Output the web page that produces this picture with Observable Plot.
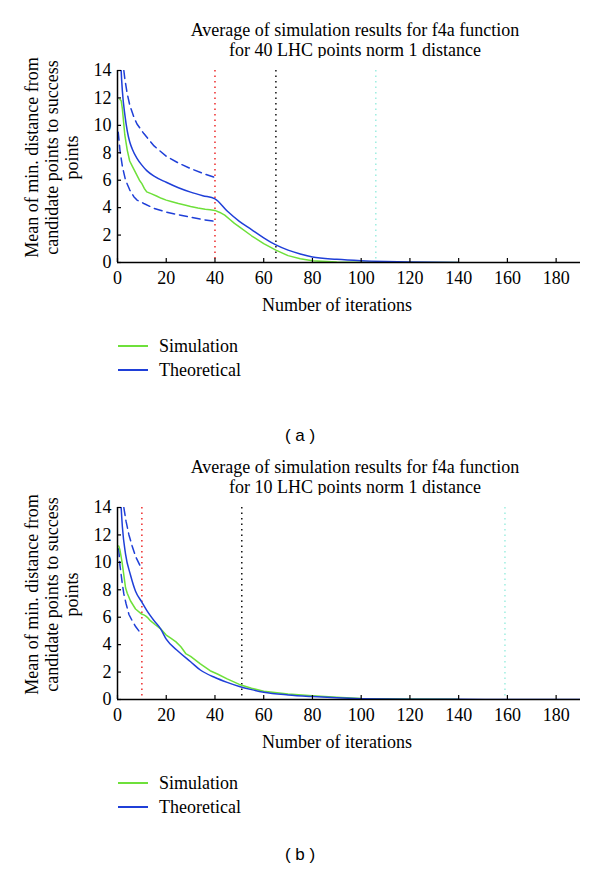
<!DOCTYPE html>
<html>
<head>
<meta charset="utf-8">
<script src="https://cdn.jsdelivr.net/npm/d3@7"></script>
<script src="https://cdn.jsdelivr.net/npm/@observablehq/plot@0.6"></script>
<style>
  html, body { margin: 0; padding: 0; background: #fff; }
  body { width: 600px; height: 871px; position: relative; font-family: "Liberation Serif", serif; color: #000; overflow: hidden; }
  .title { position: absolute; left: 155px; width: 400px; text-align: center; font-size: 18px; line-height: 20px; }
  .chart { position: absolute; left: 0; }
  .chart svg text { font-family: "Liberation Serif", serif !important; font-size: 18px !important; }
  .legend { position: absolute; left: 118px; font-size: 18px; }
  .legend .row { position: absolute; left: 0; height: 20px; white-space: nowrap; }
  .legend .sw { position: absolute; left: 0; top: 9px; width: 30px; height: 2px; }
  .legend .lb { position: absolute; left: 41px; top: 0; line-height: 20px; }
  .tag { position: absolute; left: 250px; width: 100px; text-align: center; font-family: "Liberation Sans", sans-serif; font-size: 17px; line-height: 20px; }
</style>
</head>
<body>
<script>
// ---------- data ----------
const xTicks = [0, 20, 40, 60, 80, 100, 120, 140, 160, 180];
const yTicks = [0, 2, 4, 6, 8, 10, 12, 14];

// panel (a): 40 LHC points
const titleA = ["Average of simulation results for f4a function", "for 40 LHC points norm 1 distance"];
const simA_x = [1, 1.5, 2, 3, 4, 5, 6, 7, 8, 9, 10, 11, 12, 14, 16, 18, 20, 22, 25, 28, 30, 33, 36, 38, 40, 42, 44, 46, 48, 50, 55, 60, 65, 70, 75, 80, 90, 100, 120, 140];
const simA_y = [11.9, 11.8, 11.2, 9.3, 8.2, 7.4, 7.05, 6.7, 6.35, 6.0, 5.75, 5.4, 5.15, 5.0, 4.85, 4.68, 4.55, 4.45, 4.3, 4.17, 4.08, 3.97, 3.88, 3.85, 3.8, 3.65, 3.45, 3.15, 2.85, 2.6, 1.95, 1.38, 0.9, 0.5, 0.28, 0.12, 0.03, 0.01, 0, 0];
const theoA_x = [1, 1.5, 2, 3, 4, 5, 6, 8, 10, 12, 15, 20, 25, 30, 35, 40, 45, 50, 55, 60, 65, 70, 75, 80, 90, 100, 110, 120, 130, 140];
const theoA_y = [16.5, 14, 12.5, 10.8, 9.6, 8.8, 8.3, 7.6, 7.1, 6.7, 6.3, 5.85, 5.45, 5.13, 4.87, 4.64, 3.75, 3.0, 2.4, 1.8, 1.28, 0.9, 0.62, 0.4, 0.23, 0.13, 0.07, 0.03, 0.01, 0];
const upA_x = [2.6, 3, 4, 5, 6.7, 8, 10.8, 15, 20, 25, 30, 35, 40];
const upA_y = [14, 13.4, 12.3, 11.5, 10.6, 10.1, 9.4, 8.5, 7.75, 7.25, 6.85, 6.5, 6.2];
const loA_x = [0.3, 1, 2, 3.3, 5, 6.7, 8, 10.8, 15, 20, 25, 30, 35, 40];
const loA_y = [9.5, 8.2, 7.0, 6.0, 5.3, 4.8, 4.55, 4.3, 3.95, 3.68, 3.48, 3.3, 3.13, 3.0];
const vlinesA = [40, 65, 106];

// panel (b): 10 LHC points
const titleB = ["Average of simulation results for f4a function", "for 10 LHC points norm 1 distance"];
const simB_x = [0.5, 1, 1.5, 2, 3.3, 4, 5.3, 7.4, 9.9, 11, 11.5, 12.5, 13.6, 15.5, 17.7, 20, 22, 24, 26, 28, 30, 34, 38, 41, 45, 50, 55, 60, 70, 80, 90, 100, 120, 140];
const simB_y = [11.2, 10.9, 10.4, 9.85, 8.15, 7.75, 7.2, 6.6, 6.23, 6.15, 6.1, 5.95, 5.73, 5.45, 5.15, 4.7, 4.45, 4.2, 3.85, 3.35, 3.15, 2.6, 2.1, 1.86, 1.5, 1.1, 0.82, 0.6, 0.4, 0.28, 0.17, 0.08, 0.03, 0.01];
const theoB_x = [1, 1.5, 2, 3.3, 5.3, 7.4, 10, 12, 15, 17.7, 20, 25, 30, 34, 40, 45, 50, 55, 60, 70, 80, 90, 100, 110, 120, 140, 160, 190];
const theoB_y = [16, 14, 12.6, 10.6, 9.1, 7.9, 7.1, 6.5, 5.75, 5.15, 4.4, 3.5, 2.75, 2.15, 1.6, 1.25, 0.95, 0.72, 0.53, 0.33, 0.21, 0.12, 0.06, 0.03, 0.02, 0.01, 0, 0];
const upB_x = [2.6, 3.5, 4.7, 6, 7.5, 9, 10];
const upB_y = [14, 13, 12, 11.2, 10.4, 9.85, 9.5];
const loB_x = [0.5, 1, 2, 2.6, 3.5, 4.7, 6, 7.5, 9];
const loB_y = [11, 9.8, 8.4, 7.7, 7.0, 6.2, 5.75, 5.3, 4.95];
const vlinesB = [10, 51, 159];

const yLabel = ["Mean of min. distance from", "candidate points to success", "points"];
const xLabel = "Number of iterations";
const seriesNames = ["Simulation", "Theoretical"];
const tags = ["( a )", "( b )"];

// ---------- styles ----------
const GREEN = "#6ee03a";
const BLUE = "#1f3fd8";
const VCOLORS = ["#ee2a2a", "#111111", "#9eeee0"];

const W = 600, H = 260, ML = 117, MR = 20, MT = 12, MB = 56;
const FW = W - ML - MR, FH = H - MT - MB;

const pts = (xs, ys) => xs.map((x, i) => ({x, y: ys[i]}));

function panel(simX, simY, thX, thY, upX, upY, loX, loY, vlines) {
  return Plot.plot({
    width: W, height: H,
    marginLeft: ML, marginRight: MR, marginTop: MT, marginBottom: MB,
    style: {fontFamily: "Liberation Serif, serif", fontSize: "18px", color: "#000", background: "#fff", overflow: "visible"},
    x: {domain: [0, 190], ticks: xTicks, tickSize: 0, tickPadding: 9, label: null, tickFormat: d => String(d)},
    y: {domain: [0, 14], ticks: yTicks, tickSize: 0, tickPadding: 6, label: null, tickFormat: d => String(d)},
    marks: [
      Plot.ruleX(vlines, {x: d => d, stroke: (d, i) => VCOLORS[i], strokeWidth: 1.5, strokeDasharray: "1.5,4"}),
      Plot.line(pts(upX, upY), {x: "x", y: "y", stroke: BLUE, strokeWidth: 1.5, strokeDasharray: "8,5", clip: true}),
      Plot.line(pts(loX, loY), {x: "x", y: "y", stroke: BLUE, strokeWidth: 1.5, strokeDasharray: "8,5", clip: true}),
      Plot.line(pts(simX, simY), {x: "x", y: "y", stroke: GREEN, strokeWidth: 1.5, curve: "linear", clip: true}),
      Plot.line(pts(thX, thY), {x: "x", y: "y", stroke: BLUE, strokeWidth: 1.5, curve: "monotone-x", clip: true}),
      Plot.ruleY([0], {stroke: "#000", strokeWidth: 1.5}),
      Plot.ruleX([0], {stroke: "#000", strokeWidth: 1.5}),
      Plot.tickX(xTicks, {x: d => d, stroke: "#000", strokeWidth: 1.2, insetTop: FH - 4}),
      Plot.tickY(yTicks, {y: d => d, stroke: "#000", strokeWidth: 1.2, insetRight: FW - 4}),
      Plot.text([xLabel], {text: d => d, frameAnchor: "bottom", lineAnchor: "middle", textAnchor: "middle", dx: -12, dy: 43, fontSize: 18}),
      Plot.text([yLabel[0]], {text: d => d, frameAnchor: "left", lineAnchor: "middle", textAnchor: "middle", rotate: -90, dx: -85, dy: -9, fontSize: 18}),
      Plot.text([yLabel[1]], {text: d => d, frameAnchor: "left", lineAnchor: "middle", textAnchor: "middle", rotate: -90, dx: -65, dy: -9, fontSize: 18}),
      Plot.text([yLabel[2]], {text: d => d, frameAnchor: "left", lineAnchor: "middle", textAnchor: "middle", rotate: -90, dx: -45, dy: -9, fontSize: 18})
    ]
  });
}

function addPanel(offset, title, chart, tag, tagTop) {
  const t = document.createElement("div");
  t.className = "title";
  t.style.top = (offset + 20) + "px";
  t.innerHTML = title.map(s => `<div>${s}</div>`).join("");
  document.body.appendChild(t);

  const c = document.createElement("div");
  c.className = "chart";
  c.style.top = (offset + 58) + "px";
  c.appendChild(chart);
  document.body.appendChild(c);

  const lg = document.createElement("div");
  lg.className = "legend";
  lg.style.top = (offset + 336) + "px";
  const cols = [GREEN, BLUE];
  seriesNames.forEach((n, i) => {
    const r = document.createElement("div");
    r.className = "row";
    r.style.top = (i * 24) + "px";
    r.innerHTML = `<div class="sw" style="background:${cols[i]}"></div><div class="lb">${n}</div>`;
    lg.appendChild(r);
  });
  document.body.appendChild(lg);

  const tg = document.createElement("div");
  tg.className = "tag";
  tg.style.top = tagTop + "px";
  tg.textContent = tag;
  document.body.appendChild(tg);
}

addPanel(0, titleA, panel(simA_x, simA_y, theoA_x, theoA_y, upA_x, upA_y, loA_x, loA_y, vlinesA), tags[0], 426);
addPanel(437, titleB, panel(simB_x, simB_y, theoB_x, theoB_y, upB_x, upB_y, loB_x, loB_y, vlinesB), tags[1], 845);
</script>
</body>
</html>
